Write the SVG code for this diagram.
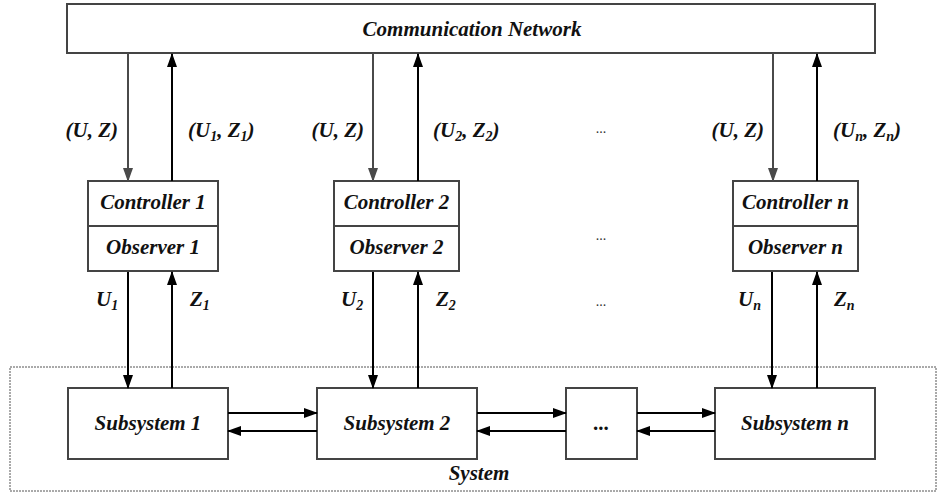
<svg xmlns="http://www.w3.org/2000/svg" width="938" height="493" viewBox="0 0 938 493">
  <style>
    .frame { fill: #fff; stroke: #444; stroke-width: 2; }
    .capt { font-weight: bold; font-style: italic; font-size: 21px; fill: #111; }
    .ctr { text-anchor: middle; }
    .rgt { text-anchor: end; }
    .ix { font-size: 14px; }
    .elp { font-size: 14px; fill: #333; text-anchor: middle; }
    .wire-g { stroke: #4a4a4a; stroke-width: 2; fill: none; }
    .wire-k { stroke: #000; stroke-width: 2; fill: none; }
  </style>
  <defs>
    <marker id="ahGray" markerUnits="userSpaceOnUse" markerWidth="14" markerHeight="10" refX="13" refY="5" orient="auto">
      <path d="M0,0 L14,5 L0,10 z" fill="#4a4a4a"/>
    </marker>
    <marker id="ahBlk" markerUnits="userSpaceOnUse" markerWidth="14" markerHeight="10" refX="13" refY="5" orient="auto">
      <path d="M0,0 L14,5 L0,10 z" fill="#000"/>
    </marker>
  </defs>

  <!-- system boundary -->
  <g id="system">
    <rect x="10" y="367" width="926" height="124" fill="none" stroke="#555" stroke-width="1" stroke-dasharray="2,1"/>
    <text class="capt ctr" style="font-family:'Liberation Serif',serif" x="479" y="480">System</text>
  </g>

  <!-- network -->
  <g id="network">
    <rect class="frame" x="67" y="4" width="808" height="49"/>
    <text class="capt ctr" style="font-family:'Liberation Serif',serif" x="472" y="36">Communication Network</text>
  </g>

  <!-- controller / observer pairs -->
  <g id="ctrl1">
    <rect class="frame" x="88" y="181" width="130" height="90"/>
    <line x1="88" y1="226" x2="218" y2="226" stroke="#444" stroke-width="2"/>
    <text class="capt ctr" style="font-family:'Liberation Serif',serif" x="153" y="209">Controller 1</text>
    <text class="capt ctr" style="font-family:'Liberation Serif',serif" x="153" y="254">Observer 1</text>
  </g>
  <g id="ctrl2">
    <rect class="frame" x="334" y="181" width="125" height="90"/>
    <line x1="334" y1="226" x2="459" y2="226" stroke="#444" stroke-width="2"/>
    <text class="capt ctr" style="font-family:'Liberation Serif',serif" x="396.5" y="209">Controller 2</text>
    <text class="capt ctr" style="font-family:'Liberation Serif',serif" x="396.5" y="254">Observer 2</text>
  </g>
  <g id="ctrln">
    <rect class="frame" x="733" y="181" width="125" height="90"/>
    <line x1="733" y1="226" x2="858" y2="226" stroke="#444" stroke-width="2"/>
    <text class="capt ctr" style="font-family:'Liberation Serif',serif" x="795.5" y="209">Controller n</text>
    <text class="capt ctr" style="font-family:'Liberation Serif',serif" x="795.5" y="254">Observer n</text>
  </g>

  <!-- subsystems -->
  <g id="sub1">
    <rect class="frame" x="68" y="388" width="160" height="71"/>
    <text class="capt ctr" style="font-family:'Liberation Serif',serif" x="148" y="430">Subsystem 1</text>
  </g>
  <g id="sub2">
    <rect class="frame" x="317" y="388" width="160" height="71"/>
    <text class="capt ctr" style="font-family:'Liberation Serif',serif" x="397" y="430">Subsystem 2</text>
  </g>
  <g id="subdots">
    <rect class="frame" x="566" y="388" width="71" height="71"/>
    <text class="capt ctr" style="font-family:'Liberation Serif',serif" x="601.5" y="430">...</text>
  </g>
  <g id="subn">
    <rect class="frame" x="715" y="388" width="160" height="71"/>
    <text class="capt ctr" style="font-family:'Liberation Serif',serif" x="795" y="430">Subsystem n</text>
  </g>

  <!-- connectors -->
  <g id="connectors">
    <!-- network to controllers -->
    <line class="wire-g" x1="128" y1="53" x2="128" y2="181" marker-end="url(#ahGray)"/>
    <line class="wire-k" x1="172" y1="181" x2="172" y2="54" marker-end="url(#ahBlk)"/>
    <line class="wire-g" x1="373" y1="53" x2="373" y2="181" marker-end="url(#ahGray)"/>
    <line class="wire-k" x1="418" y1="181" x2="418" y2="54" marker-end="url(#ahBlk)"/>
    <line class="wire-g" x1="773" y1="53" x2="773" y2="181" marker-end="url(#ahGray)"/>
    <line class="wire-k" x1="817" y1="181" x2="817" y2="54" marker-end="url(#ahBlk)"/>

    <!-- controllers to subsystems -->
    <line class="wire-k" x1="128" y1="272" x2="128" y2="388" marker-end="url(#ahBlk)"/>
    <line class="wire-k" x1="172" y1="388" x2="172" y2="272" marker-end="url(#ahBlk)"/>
    <line class="wire-k" x1="373" y1="272" x2="373" y2="388" marker-end="url(#ahBlk)"/>
    <line class="wire-k" x1="418" y1="388" x2="418" y2="272" marker-end="url(#ahBlk)"/>
    <line class="wire-k" x1="772" y1="272" x2="772" y2="388" marker-end="url(#ahBlk)"/>
    <line class="wire-k" x1="817" y1="388" x2="817" y2="272" marker-end="url(#ahBlk)"/>

    <!-- coupling between subsystems -->
    <line class="wire-k" x1="228" y1="413" x2="317" y2="413" marker-end="url(#ahBlk)"/>
    <line class="wire-k" x1="317" y1="431" x2="228" y2="431" marker-end="url(#ahBlk)"/>
    <line class="wire-k" x1="477" y1="413" x2="566" y2="413" marker-end="url(#ahBlk)"/>
    <line class="wire-k" x1="566" y1="431" x2="477" y2="431" marker-end="url(#ahBlk)"/>
    <line class="wire-k" x1="637" y1="413" x2="715" y2="413" marker-end="url(#ahBlk)"/>
    <line class="wire-k" x1="715" y1="431" x2="637" y2="431" marker-end="url(#ahBlk)"/>
  </g>

  <!-- signal labels -->
  <g id="labels">
    <text class="capt rgt" style="font-family:'Liberation Serif',serif" x="118" y="137">(U, Z)</text>
    <text class="capt rgt" style="font-family:'Liberation Serif',serif" x="364" y="137">(U, Z)</text>
    <text class="capt rgt" style="font-family:'Liberation Serif',serif" x="764" y="137">(U, Z)</text>
    <text class="capt" style="font-family:'Liberation Serif',serif" x="188" y="137">(U<tspan class="ix" dy="4">1</tspan><tspan dy="-4">, Z</tspan><tspan class="ix" dy="4">1</tspan><tspan dy="-4">)</tspan></text>
    <text class="capt" style="font-family:'Liberation Serif',serif" x="433" y="137">(U<tspan class="ix" dy="4">2</tspan><tspan dy="-4">, Z</tspan><tspan class="ix" dy="4">2</tspan><tspan dy="-4">)</tspan></text>
    <text class="capt" style="font-family:'Liberation Serif',serif" x="833" y="137">(U<tspan class="ix" dy="4">n</tspan><tspan dy="-4">, Z</tspan><tspan class="ix" dy="4">n</tspan><tspan dy="-4">)</tspan></text>

    <text class="capt" style="font-family:'Liberation Serif',serif" x="96" y="306">U<tspan class="ix" dy="4">1</tspan></text>
    <text class="capt" style="font-family:'Liberation Serif',serif" x="190" y="306">Z<tspan class="ix" dy="4">1</tspan></text>
    <text class="capt" style="font-family:'Liberation Serif',serif" x="341" y="306">U<tspan class="ix" dy="4">2</tspan></text>
    <text class="capt" style="font-family:'Liberation Serif',serif" x="436" y="306">Z<tspan class="ix" dy="4">2</tspan></text>
    <text class="capt" style="font-family:'Liberation Serif',serif" x="738" y="306">U<tspan class="ix" dy="4">n</tspan></text>
    <text class="capt" style="font-family:'Liberation Serif',serif" x="834" y="306">Z<tspan class="ix" dy="4">n</tspan></text>

    <text class="elp" style="font-family:'Liberation Serif',serif" x="601" y="133">...</text>
    <text class="elp" style="font-family:'Liberation Serif',serif" x="601" y="240">...</text>
    <text class="elp" style="font-family:'Liberation Serif',serif" x="601" y="306">...</text>
  </g>
</svg>
